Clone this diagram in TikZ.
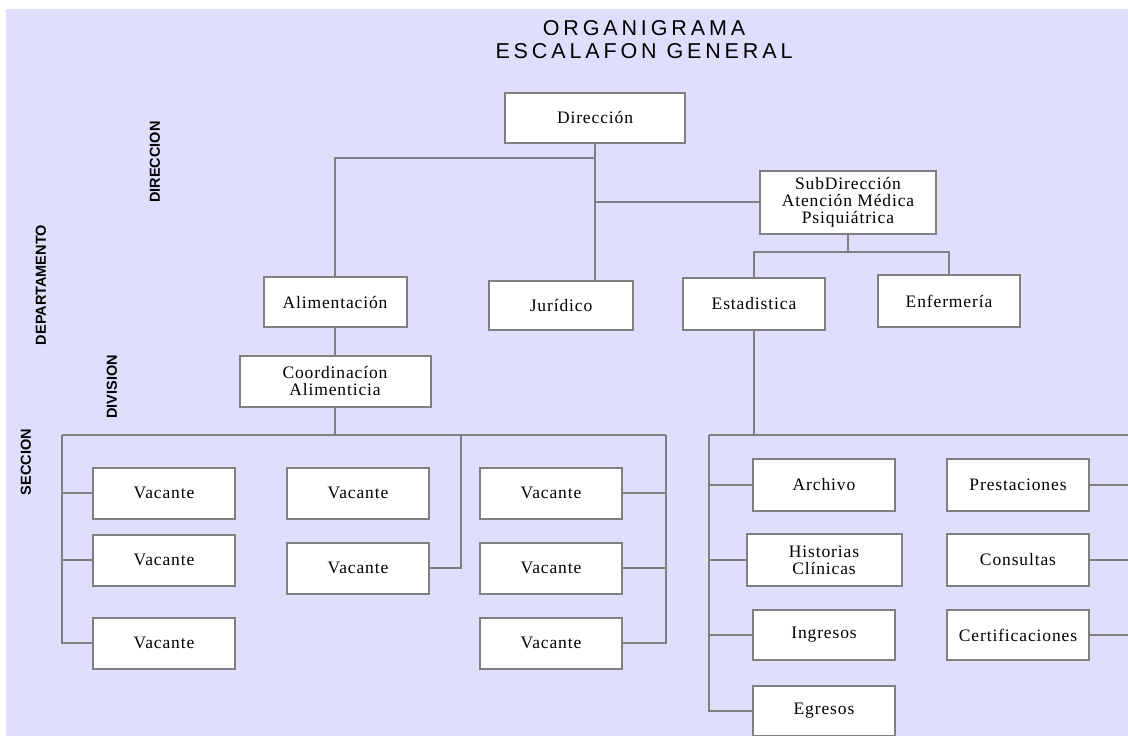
\documentclass[tikz,border=0pt]{standalone}
\usepackage{fontspec}
\setmainfont{Liberation Serif}[LetterSpace=5]
\newfontfamily\titulofont{Liberation Sans}[LetterSpace=18]
\newfontfamily\ladofont{Liberation Sans}
\definecolor{fondo}{RGB}{223,223,253}
\definecolor{linea}{RGB}{128,128,128}
\begin{document}
\begin{tikzpicture}[x=1pt,y=-1pt,
    caja/.style={draw=linea, line width=2pt, fill=white, inner sep=0pt, minimum width=142pt, minimum height=51pt, align=center, font=\fontsize{17.5}{17}\selectfont},
    enlace/.style={draw=linea, line width=2pt},
    titulo/.style={anchor=base, inner sep=0pt, font=\titulofont\fontsize{21.5}{23}\selectfont},
    nivel/.style={rotate=90, inner sep=0pt, font=\ladofont\bfseries\fontsize{14.5}{15}\selectfont}]
  \useasboundingbox (0,0) rectangle (1128,736);
  \fill[fondo] (6,9) rectangle (1128,736);
  \node[titulo] (t1) at (644,35) {ORGANIGRAMA};
  \node[titulo] (t2) at (644,58) {ESCALAFON GENERAL};
  \node[nivel] (ndir) at (155,162) {DIRECCION};
  \node[nivel] (ndep) at (41,285) {DEPARTAMENTO};
  \node[nivel] (ndiv) at (112,387) {DIVISION};
  \node[nivel] (nsec) at (26,462) {SECCION};
  \node[caja, minimum width=180pt, minimum height=50pt] (dir) at (595,118) {Dirección};
  \node[caja, minimum width=176pt, minimum height=63pt] (sub) at (848,202) {SubDirección\\Atención Médica\\Psiquiátrica};
  \node[caja, minimum width=143pt, minimum height=50pt] (ali) at (335,302) {Alimentación};
  \node[caja, minimum width=144pt, minimum height=49pt] (jur) at (561,305) {Jurídico};
  \node[caja, minimum height=52pt] (est) at (754,304) {Estadistica};
  \node[caja, minimum height=52pt] (enf) at (949,301) {Enfermería};
  \node[caja, minimum width=191pt] (coo) at (335,381) {Coordinacíon\\Alimenticia};
  \node[caja] (v11) at (164,493) {Vacante};
  \node[caja] (v12) at (164,560) {Vacante};
  \node[caja] (v13) at (164,643) {Vacante};
  \node[caja] (v21) at (358,493) {Vacante};
  \node[caja] (v22) at (358,568) {Vacante};
  \node[caja] (v31) at (551,493) {Vacante};
  \node[caja] (v32) at (551,568) {Vacante};
  \node[caja] (v33) at (551,643) {Vacante};
  \node[caja, minimum height=52pt] (arc) at (824,485) {Archivo};
  \node[caja, minimum width=155pt, minimum height=52pt] (his) at (824,560) {Historias\\Clínicas};
  \node[caja, minimum height=50pt] (ing) at (824,635) {Ingresos};
  \node[caja, minimum height=50pt] (egr) at (824,711) {Egresos};
  \node[caja, minimum height=52pt] (pre) at (1018,485) {Prestaciones};
  \node[caja, minimum height=52pt] (con) at (1018,560) {Consultas};
  \node[caja, minimum height=50pt] (cer) at (1018,635) {Certificaciones};
  \coordinate (izq) at (62,435);
  \coordinate (med) at (461,435);
  \coordinate (der) at (666,435);
  \coordinate (bus) at (709,435);
  \coordinate (borde) at (1128,435);
  \draw[enlace] (dir.south) -- (dir.south |- jur.north);
  \draw[enlace] (dir.south) ++(0,14) -| (ali.north);
  \draw[enlace] (sub.west) -- (sub.west -| dir.south);
  \draw[enlace] (sub.south) -- ++(0,17) -| (est.north);
  \draw[enlace] (sub.south) ++(0,17) -| (enf.north);
  \draw[enlace] (ali) -- (coo);
  \draw[enlace] (coo.south) -- (coo.south |- izq);
  \draw[enlace] (izq) -- (der);
  \draw[enlace] (izq) |- (v13.west);
  \draw[enlace] (v11.west) -- (v11.west -| izq);
  \draw[enlace] (v12.west) -- (v12.west -| izq);
  \draw[enlace] (med) |- (v22.east);
  \draw[enlace] (der) |- (v33.east);
  \draw[enlace] (v31.east) -- (v31.east -| der);
  \draw[enlace] (v32.east) -- (v32.east -| der);
  \draw[enlace] (est.south) -- (est.south |- bus);
  \draw[enlace] (bus) -- (borde);
  \draw[enlace] (bus) |- (egr.west);
  \draw[enlace] (arc.west) -- (arc.west -| bus);
  \draw[enlace] (his.west) -- (his.west -| bus);
  \draw[enlace] (ing.west) -- (ing.west -| bus);
  \draw[enlace] (pre.east) -- (pre.east -| borde);
  \draw[enlace] (con.east) -- (con.east -| borde);
  \draw[enlace] (cer.east) -- (cer.east -| borde);
\end{tikzpicture}
\end{document}
